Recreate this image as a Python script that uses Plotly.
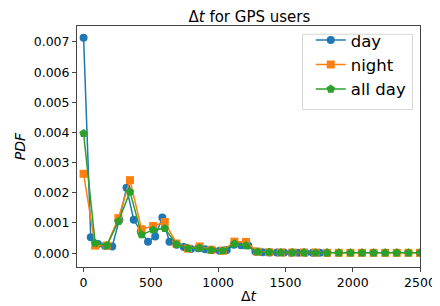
import plotly.graph_objects as go

# Bin positions (Δt)
day_dt = [i * 2500 / 47 for i in range(35)]
night_dt = [i * 2500 / 29 for i in range(30)]
allday_dt = [i * 2500 / 29 for i in range(30)]

day_pdf = [0.00714, 0.00053, 0.00030, 0.00024, 0.00022, 0.00111, 0.00217, 0.00111,
           0.00072, 0.00038, 0.00055, 0.00118, 0.00038, 0.00028, 0.00020, 0.00014,
           0.00016, 0.00013, 0.00010, 0.00008, 0.00010, 0.00028, 0.00026, 0.00025,
           0.00005, 0.00003, 0.00002, 0.00002, 0.00002, 0.00001, 0.00001, 0.00001,
           0.00001, 0.00001, 0.00001]

night_pdf = [0.00263, 0.00025, 0.00025, 0.00116, 0.00242, 0.00079, 0.00090, 0.00103,
             0.00032, 0.00015, 0.00022, 0.00011, 0.00008, 0.00038, 0.00037, 0.00005,
             0.00003, 0.00002, 0.00002, 0.00002, 0.00002, 0.00001, 0.00001, 0.00001,
             0.00001, 0.00001, 0.00001, 0.00001, 0.00001, 0.00001]

allday_pdf = [0.00397, 0.00033, 0.00025, 0.00105, 0.00203, 0.00061, 0.00077, 0.00082,
              0.00029, 0.00016, 0.00017, 0.00010, 0.00008, 0.00031, 0.00025, 0.00004,
              0.00003, 0.00002, 0.00002, 0.00002, 0.00001, 0.00001, 0.00001, 0.00001,
              0.00001, 0.00001, 0.00001, 0.00001, 0.00001, 0.00001]

FONT = "DejaVu Sans"

fig = go.Figure()
fig.add_trace(go.Scatter(x=day_dt, y=day_pdf, name="day", mode="lines+markers",
                         line=dict(color="#1f77b4", width=1.5),
                         marker=dict(symbol="circle", size=8, color="#1f77b4")))
fig.add_trace(go.Scatter(x=night_dt, y=night_pdf, name="night", mode="lines+markers",
                         line=dict(color="#ff7f0e", width=1.5),
                         marker=dict(symbol="square", size=8, color="#ff7f0e")))
fig.add_trace(go.Scatter(x=allday_dt, y=allday_pdf, name="all day", mode="lines+markers",
                         line=dict(color="#2ca02c", width=1.5),
                         marker=dict(symbol="pentagon", size=9, color="#2ca02c")))

# legend frame (matplotlib-style box)
fig.add_shape(type="rect", xref="paper", yref="paper",
              x0=0.6575, x1=0.978, y0=0.6534, y1=0.9656,
              line=dict(color="#d6d6d6", width=1), fillcolor="white", layer="below")

fig.update_layout(
    width=440, height=306, autosize=False,
    margin=dict(l=59, r=16, t=18, b=35),
    paper_bgcolor="white", plot_bgcolor="white",
    font=dict(family=FONT, size=12.5, color="black"),
    title=dict(text="Δ<i>t</i> for GPS users", x=0.5486, xanchor="center",
               y=1 - 9 / 306, yanchor="middle", font=dict(size=15)),
    showlegend=True,
    legend=dict(x=0.976, y=1.013, xanchor="right", yanchor="top",
                bgcolor="rgba(0,0,0,0)", borderwidth=0,
                font=dict(size=16.5)),
    xaxis=dict(range=[-49, 2500], tickmode="linear", tick0=0, dtick=500,
               showgrid=False, zeroline=False, showline=True, mirror=True,
               linecolor="#444", linewidth=1, ticks="outside", ticklen=4,
               tickcolor="#444",
               title=dict(text="Δ<i>t</i>", standoff=2, font=dict(size=14))),
    yaxis=dict(range=[-0.00046, 0.00753], tickmode="linear", tick0=0, dtick=0.001,
               tickformat=".3f",
               showgrid=False, zeroline=False, showline=True, mirror=True,
               linecolor="#444", linewidth=1, ticks="outside", ticklen=4,
               tickcolor="#444",
               title=dict(text="<i>PDF</i>", standoff=4, font=dict(size=14))),
)

fig.write_html("out.html")
